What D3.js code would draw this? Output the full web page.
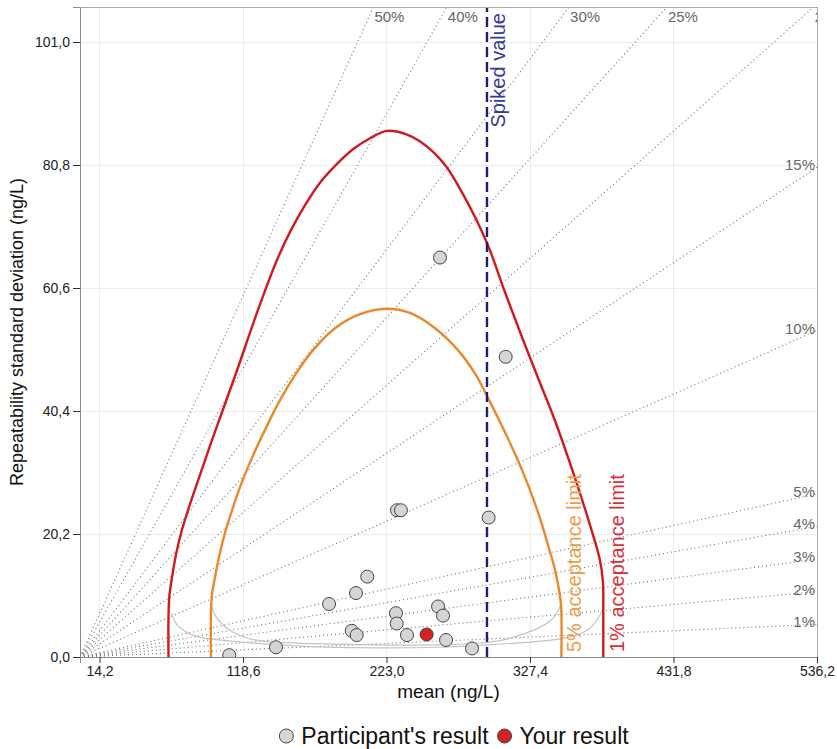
<!DOCTYPE html>
<html>
<head>
<meta charset="utf-8">
<script src="https://cdnjs.cloudflare.com/ajax/libs/d3/7.8.5/d3.min.js"></script>
<script type='text/javascript'>
// values
var xTicks = [14.2, 118.6, 223.0, 327.4, 431.8, 536.2];
var yTicks = [0.0, 20.2, 40.4, 60.6, 80.8, 101.0];
var ratios = [0.01, 0.02, 0.03, 0.04, 0.05, 0.10, 0.15, 0.20, 0.25, 0.30, 0.40, 0.50];
var spikedValue = 296.1;

var participantMean = [261.9, 309.7, 230.6, 233.5, 297.3, 209.0, 200.8, 181.2, 229.9, 260.5,
                       264.1, 230.4, 197.7, 201.3, 237.9, 266.3, 285.2, 142.6, 108.6];
var participantSd   = [65.6, 49.3, 24.1, 24.1, 22.9, 13.2, 10.5, 8.7, 7.2, 8.3,
                       6.8, 5.5, 4.3, 3.6, 3.6, 2.8, 1.4, 1.6, 0.3];
var yourMean = [252.2];
var yourSd = [3.7];

// [mean, sd] pairs along the acceptance limits
var limit1 = [[64.4,0],[64.4,6.9],[65.1,10.2],[66.9,13.0],[69.8,16.8],[74.2,20.9],[79.3,24.6],
  [87.3,29.9],[96.0,35.6],[113.5,46.6],[129.5,57.0],[143.3,65.2],[153.5,70.1],[163.7,74.2],
  [174.6,77.9],[187.0,81.0],[198.6,83.4],[211.0,85.2],[223.4,86.4],[236.5,85.9],[251.0,84.1],
  [265.6,80.8],[280.1,75.4],[296.1,68.0],[309.2,59.9],[322.3,52.1],[334.7,45.0],[344.1,39.7],
  [350.7,35.6],[361.6,28.4],[371.0,21.7],[378.3,15.9],[380.5,12.2],[380.7,7.7],[380.7,0]];
var limit5 = [[95.3,0],[95.3,7.7],[96.0,10.2],[98.2,13.1],[101.1,16.4],[105.5,20.4],[110.6,24.1],
  [117.1,28.3],[125.1,32.7],[134.6,37.3],[144.8,41.9],[156.4,46.3],[169.5,50.4],[185.5,54.0],
  [203.7,56.3],[222.6,57.2],[240.1,56.5],[258.3,54.0],[275.0,50.4],[288.1,46.3],[298.3,41.9],
  [307.7,37.6],[317.2,33.0],[325.9,28.3],[333.9,23.3],[340.5,18.4],[345.6,14.3],[348.5,11.0],
  [350.0,8.5],[350.2,0]];
var lowerOuter = [[66.7,7.2],[70.5,5.3],[78,4.0],[86,3.3],[115,2.5],[160,1.8],[215,1.5],[260,1.6],
  [296,2.0],[325,2.4],[344,2.8],[360,3.5],[369,4.4],[375,5.7],[378.3,6.9],[380.5,7.8]];
var lowerInner = [[95.8,8.3],[99,6.6],[104,5.3],[110.4,4.2],[127.3,2.8],[151,2.35],[215,2.0],[260,2.0],
  [291,2.3],[310,2.9],[320,3.6],[331,4.5],[339.5,5.5],[345,6.6],[348,7.7],[349.2,8.3]];

var legendLabels = ["Participant's result", "Your result"];

document.addEventListener("DOMContentLoaded", function(event) {

var width = 837,
    height = 749,
    margin = {top: 7, right: 20, bottom: 92, left: 80};

var svg = d3.select("div#plot1").append("svg")
    .attr("width", width)
    .attr("height", height);

var xsc = d3.scaleLinear().domain([0, 536.2]).range([margin.left, width - margin.right]),
    ysc = d3.scaleLinear().domain([0, 106.75]).range([height - margin.bottom, margin.top]);

var x0 = xsc.range()[0], x1 = xsc.range()[1],
    y0 = ysc.range()[0], y1 = ysc.range()[1];

var comma = d3.formatLocale({decimal: ",", thousands: ".", grouping: [3], currency: ["", ""]}).format(".1f");

svg.append("defs").append("clipPath")
    .attr("id", "panel")
  .append("rect")
    .attr("x", x0).attr("y", y1)
    .attr("width", x1 - x0).attr("height", y0 - y1);

// grid
var grid = svg.append("g").attr("class", "grid");
xTicks.forEach(function(t) {
  grid.append("line").attr("x1", xsc(t)).attr("x2", xsc(t)).attr("y1", y0).attr("y2", y1);
});
yTicks.forEach(function(t) {
  grid.append("line").attr("x1", x0).attr("x2", x1).attr("y1", ysc(t)).attr("y2", ysc(t));
});

var panel = svg.append("g").attr("clip-path", "url(#panel)");

// constant CV lines through the origin
var xmax = xsc.domain()[1], ymax = ysc.domain()[1];
ratios.forEach(function(p) {
  var m = Math.min(xmax, ymax / p);
  panel.append("line")
    .attr("class", "ratio")
    .attr("x1", xsc(0)).attr("y1", ysc(0))
    .attr("x2", xsc(m)).attr("y2", ysc(p * m));
  var lab = panel.append("text")
    .attr("class", "ratiolabel")
    .text(Math.round(p * 100) + "%");
  if (ymax / p < xmax) {
    lab.attr("x", xsc(ymax / p) + 1).attr("y", y1 + 15).attr("text-anchor", "start");
  } else {
    lab.attr("x", x1 - 2).attr("y", ysc(p * xmax) + 3).attr("text-anchor", "end");
  }
});

var line = d3.line()
    .x(function(d) { return xsc(d[0]); })
    .y(function(d) { return ysc(d[1]); })
    .curve(d3.curveCatmullRom.alpha(0.5));

panel.append("path").datum(lowerOuter).attr("class", "lower").attr("d", line);
panel.append("path").datum(lowerInner).attr("class", "lower").attr("d", line);
panel.append("path").datum(limit5).attr("class", "limit5").attr("d", line);
panel.append("path").datum(limit1).attr("class", "limit1").attr("d", line);

panel.append("line")
    .attr("class", "spiked")
    .attr("x1", xsc(spikedValue)).attr("x2", xsc(spikedValue))
    .attr("y1", y0).attr("y2", y1);

svg.append("text")
    .attr("class", "spikedlabel")
    .attr("transform", "translate(" + (xsc(spikedValue) + 18) + "," + (y1 + 6) + ") rotate(-90)")
    .attr("text-anchor", "end")
    .text("Spiked value");

var lim5x = d3.max(limit5, function(d) { return d[0]; });
var lim1x = d3.max(limit1, function(d) { return d[0]; });
svg.append("text")
    .attr("class", "lab5")
    .attr("transform", "translate(" + (xsc(lim5x) + 20) + "," + (y0 - 5) + ") rotate(-90)")
    .text("5% acceptance limit");
svg.append("text")
    .attr("class", "lab1")
    .attr("transform", "translate(" + (xsc(lim1x) + 21) + "," + (y0 - 5) + ") rotate(-90)")
    .text("1% acceptance limit");

// points
panel.selectAll("circle.participant")
    .data(d3.range(participantMean.length))
  .enter().append("circle")
    .attr("class", "participant")
    .attr("cx", function(i) { return xsc(participantMean[i]); })
    .attr("cy", function(i) { return ysc(participantSd[i]); })
    .attr("r", 6.5);
panel.selectAll("circle.yours")
    .data(d3.range(yourMean.length))
  .enter().append("circle")
    .attr("class", "yours")
    .attr("cx", function(i) { return xsc(yourMean[i]); })
    .attr("cy", function(i) { return ysc(yourSd[i]); })
    .attr("r", 6.5);

// frame and axes
svg.append("rect")
    .attr("class", "frame")
    .attr("x", x0).attr("y", y1)
    .attr("width", x1 - x0).attr("height", y0 - y1);

var xAxis = d3.axisBottom(xsc).tickValues(xTicks).tickFormat(comma).tickSize(6).tickPadding(3);
var yAxis = d3.axisLeft(ysc).tickValues(yTicks).tickFormat(comma).tickSize(7).tickPadding(3);
svg.append("g").attr("class", "axis")
    .attr("transform", "translate(0," + y0 + ")").call(xAxis);
svg.append("g").attr("class", "axis")
    .attr("transform", "translate(" + x0 + ",0)").call(yAxis);

svg.append("text")
    .attr("class", "axistitle")
    .attr("x", (x0 + x1) / 2).attr("y", y0 + 41)
    .attr("text-anchor", "middle")
    .text("mean (ng/L)");
svg.append("text")
    .attr("class", "axistitle ytitle")
    .attr("transform", "translate(23," + (y0 + y1) / 2 + ") rotate(-90)")
    .attr("text-anchor", "middle")
    .text("Repeatability standard deviation (ng/L)");

// legend
var legend = svg.append("g").attr("class", "legend");
var lx = 0;
legendLabels.forEach(function(name, i) {
  legend.append("circle")
    .attr("class", i == 0 ? "participant" : "yours")
    .attr("cx", lx + 7).attr("cy", 0).attr("r", 7);
  var t = legend.append("text")
    .attr("x", lx + 22).attr("y", 8)
    .text(name);
  lx += 22 + t.node().getComputedTextLength() + 9;
});
legend.attr("transform", "translate(" + (454 - (lx - 9) / 2) + ",736)");

}); // DOMContentLoaded event
</script>
<style type='text/css'>
body {
  margin: 0;
  background: white;
}
svg {
  display: block;
  font-family: "Liberation Sans", Arial, sans-serif;
}
.grid line {
  stroke: #ececec;
  stroke-width: 1;
  shape-rendering: crispEdges;
}
line.ratio {
  stroke: #707070;
  stroke-width: 1.1;
  stroke-dasharray: 1,3;
}
text.ratiolabel {
  fill: #666;
  font-size: 15px;
}
path.lower {
  fill: none;
  stroke: #c4c4c4;
  stroke-width: 1.2;
}
path.limit5 {
  fill: none;
  stroke: #e8892c;
  stroke-width: 2.4;
}
path.limit1 {
  fill: none;
  stroke: #cf1a1f;
  stroke-width: 2.4;
}
line.spiked {
  stroke: #1c1f73;
  stroke-width: 2.4;
  stroke-dasharray: 10,5;
}
text.spikedlabel {
  fill: #353a96;
  font-size: 20px;
}
text.lab5 {
  fill: #eb9d4e;
  font-size: 20px;
}
text.lab1 {
  fill: #d6303a;
  font-size: 20px;
}
circle.participant {
  fill: #d5d5d5;
  stroke: #444;
  stroke-width: 1;
}
circle.yours {
  fill: #d42222;
  stroke: #444;
  stroke-width: 1;
}
rect.frame {
  fill: none;
  stroke: #aaa;
  stroke-width: 1;
  shape-rendering: crispEdges;
}
.axis path {
  stroke: #888;
}
.axis line {
  stroke: #333;
}
.axis text {
  fill: #222;
  font-size: 14px;
  font-family: "Liberation Sans", Arial, sans-serif;
}
text.axistitle {
  fill: #111;
  font-size: 19px;
}
text.ytitle {
  font-size: 18px;
}
.legend text {
  fill: #111;
  font-size: 23px;
}
</style>
</head><body>
<div id="plot1">
</div>
</body>
</html>
